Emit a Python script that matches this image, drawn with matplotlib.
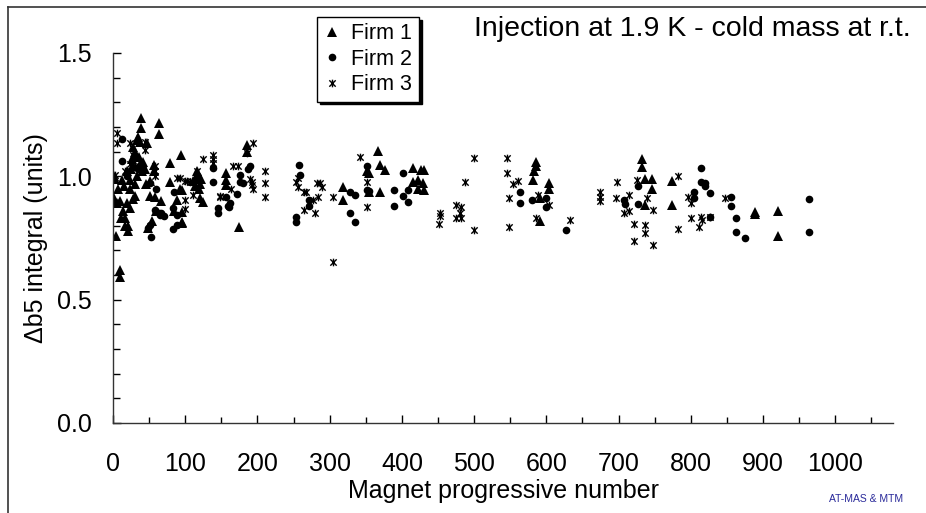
import matplotlib
matplotlib.use("Agg")
import matplotlib.pyplot as plt
from matplotlib.path import Path
from matplotlib.lines import Line2D
from matplotlib.ticker import MultipleLocator, FormatStrFormatter

plt.rcParams['font.family'] = ['Liberation Sans', 'DejaVu Sans']

# Firm 1 (triangles): magnet number, delta b5
firm1_x = [1, 3, 4, 9, 9, 0.5, 5, 10, 12, 14, 17, 11, 17, 21, 21, 19, 19, 23, 23, 25,
           28, 28, 28, 30, 33, 33, 35, 37, 39, 39, 40, 42, 44, 47, 49, 51, 51, 54, 57, 57,
           58, 60, 63, 63, 66, 79, 79, 84, 88, 93, 94, 95, 95, 95, 96, 26, 31, 36, 15, 7,
           45, 38, 24, 30,
           111, 114, 116, 118, 120, 122, 116, 120, 124, 157, 157, 157, 175, 185, 186, 113, 119,
           318, 319, 351, 355, 367, 369, 376, 355, 369, 415, 422, 427, 431, 415, 429, 422, 430,
           586, 585, 583, 581, 604, 604, 591, 591,
           732, 732, 737, 746, 746, 737, 774, 774, 889, 889, 921, 921]
firm1_y = [1.00, 0.99, 0.76, 0.62, 0.59, 0.92, 0.89, 0.90, 0.985, 0.86, 0.83, 0.83, 0.80, 0.80, 0.78, 0.89, 1.02, 0.985, 0.95, 1.03,
           1.04, 1.12, 0.91, 0.92, 1.00, 1.147, 1.16, 1.14, 1.235, 1.195, 1.02, 1.06, 1.03, 1.135, 0.79, 0.98, 0.92, 0.82, 1.046, 1.02,
           0.917, 0.86, 1.215, 1.172, 0.90, 1.053, 0.978, 0.86, 0.904, 0.95, 1.087, 0.945, 0.857, 0.816, 0.812, 1.07, 1.10, 1.08, 0.96, 0.95,
           0.97, 1.05, 0.87, 0.97,
           0.98, 0.99, 1.00, 1.01, 0.97, 0.99, 1.02, 0.911, 0.897, 1.012, 0.965, 0.985, 0.796, 1.127, 1.10, 0.96, 0.95,
           0.956, 0.904, 1.02, 1.012, 1.104, 1.046, 1.026, 0.938, 0.938, 1.032, 0.985, 1.026, 1.026, 0.978, 0.972, 0.95, 0.945,
           1.06, 1.04, 1.02, 0.985, 0.972, 0.95, 0.911, 0.82,
           1.069, 1.037, 0.988, 0.988, 0.95, 0.884, 0.982, 0.884, 0.857, 0.847, 0.861, 0.758]

# Firm 2 (circles)
firm2_x = [3, 7, 13, 13, 30, 51, 60, 58, 63, 65, 67, 51, 48, 52, 84, 83, 89, 89, 83, 20, 35, 70,
           139, 139, 146, 146, 159, 161, 157, 162, 172, 176, 176, 187, 190, 180, 258, 259, 253, 253, 272, 272,
           328, 335, 328, 335, 351, 351, 355, 401, 389, 401, 408, 389, 408,
           564, 564, 580, 599, 599, 627, 708, 709, 727, 727,
           814, 814, 819, 820, 826, 804, 804, 826, 855, 855, 863, 863, 875, 964, 964]
firm2_y = [0.89, 0.89, 1.15, 1.063, 1.08, 0.972, 0.95, 0.863, 0.85, 0.845, 0.85, 0.803, 0.79, 0.753, 0.938, 0.87, 0.843, 0.803, 0.785, 1.0, 1.03, 0.84,
           1.032, 0.978, 0.87, 0.85, 0.88, 0.874, 0.917, 0.89, 0.93, 1.005, 0.978, 1.028, 1.04, 0.972, 1.046, 1.005, 0.836, 0.816, 0.904, 0.88,
           0.938, 0.924, 0.853, 0.816, 1.04, 0.945, 0.94, 1.015, 0.945, 0.92, 0.945, 0.88, 0.895,
           0.938, 0.89, 0.904, 0.911, 0.877, 0.782, 0.904, 0.888, 0.888, 0.961,
           1.035, 0.978, 0.972, 0.961, 0.934, 0.938, 0.911, 0.836, 0.917, 0.881, 0.833, 0.776, 0.751, 0.907, 0.773]

# Firm 3 (stars)
firm3_x = [5, 5, 3, 17, 23.5, 28, 28, 44, 44, 42, 58, 58, 58, 88, 93, 30, 24,
           106, 100, 102, 100, 100, 111, 116, 125, 139, 139, 139, 148, 148, 164, 166, 173, 185, 194, 189, 193, 194, 192,
           211, 211, 211, 254, 256, 256, 265, 267, 282, 286, 289, 284, 277, 265, 279,
           305, 305, 342, 351, 351, 453, 453, 452, 488, 475, 482, 480, 475, 482, 500, 500,
           546, 546, 554, 561, 548, 548, 588, 604, 586, 633, 674, 674, 674, 698, 697,
           715, 707, 715, 722, 722, 736, 736, 747, 747, 739, 726, 782, 782, 796, 800, 800, 814, 816, 826, 812, 848]
firm3_y = [1.174, 1.134, 1.005, 1.02, 1.136, 1.087, 1.06, 1.14, 1.107, 1.026, 1.04, 1.02, 1.0, 0.992, 0.992, 1.04, 1.05,
           0.978, 0.98, 0.98, 0.904, 0.866, 0.924, 1.02, 1.069, 1.087, 1.069, 1.055, 0.917, 0.92, 0.95, 1.04, 1.04, 1.093, 1.134, 0.988, 0.965, 0.947, 0.978,
           1.02, 0.974, 0.917, 0.978, 0.992, 0.956, 0.938, 0.938, 0.972, 0.972, 0.958, 0.917, 0.904, 0.863, 0.85,
           0.915, 0.654, 1.08, 0.978, 0.874, 0.85, 0.838, 0.805, 0.978, 0.884, 0.877, 0.85, 0.83, 0.83, 1.073, 0.782,
           1.073, 1.012, 0.969, 0.982, 0.911, 0.796, 0.924, 0.884, 0.83, 0.823, 0.938, 0.918, 0.901, 0.978, 0.911,
           0.924, 0.85, 0.86, 0.807, 0.739, 0.803, 0.769, 0.722, 0.863, 0.913, 0.985, 0.785, 1.0, 0.917, 0.893, 0.83, 0.834, 0.823, 0.836, 0.796, 0.911]

series_labels = ["Firm 1", "Firm 2", "Firm 3"]

# Excel-like star marker: an x with a vertical bar through it
star = Path([(-1, -1), (1, 1), (-1, 1), (1, -1), (0, -1.2), (0, 1.2)],
            [Path.MOVETO, Path.LINETO, Path.MOVETO, Path.LINETO, Path.MOVETO, Path.LINETO])

tri_style = dict(linestyle='none', marker='^', markersize=6.5, color='black', markeredgewidth=0)
dot_style = dict(linestyle='none', marker='o', markersize=5.5, color='black', markeredgewidth=0)
star_style = dict(linestyle='none', marker=star, markersize=5.5, markeredgecolor='black',
                  markerfacecolor='none', markeredgewidth=1.0)

fig = plt.figure(figsize=(9.26, 5.13), dpi=100)
ax = fig.add_axes([113 / 926, 90 / 513, 780 / 926, 370 / 513])

ax.plot(firm3_x, firm3_y, label=series_labels[2], **star_style)
ax.plot(firm2_x, firm2_y, label=series_labels[1], **dot_style)
ax.plot(firm1_x, firm1_y, label=series_labels[0], **tri_style)

ax.set_xlim(0, 1080)
ax.set_ylim(0, 1.5)
ax.xaxis.set_minor_locator(MultipleLocator(50))
ax.set_xticks(range(0, 1001, 100))
ax.yaxis.set_major_locator(MultipleLocator(0.5))
ax.yaxis.set_minor_locator(MultipleLocator(0.1))
ax.yaxis.set_major_formatter(FormatStrFormatter('%.1f'))

for side in ['top', 'right']:
    ax.spines[side].set_visible(False)
for side in ['left', 'bottom']:
    ax.spines[side].set_color('#333333')
    ax.spines[side].set_linewidth(1.0)

ax.tick_params(axis='x', which='major', direction='in', length=6, width=1, pad=21, labelsize=18)
ax.tick_params(axis='x', which='minor', direction='in', length=4, width=1)
ax.tick_params(axis='y', which='major', direction='in', length=6, width=1, pad=15, labelsize=18)
ax.tick_params(axis='y', which='minor', direction='in', length=5, width=1)

ax.set_xlabel("Magnet progressive number", fontsize=18, labelpad=2)
ax.set_ylabel("Δb5 integral (units)", fontsize=18, labelpad=7)

fig.text(0.984, 0.918, "Injection at 1.9 K - cold mass at r.t.", fontsize=20.5,
         ha='right', va='bottom')
fig.text(0.975, 0.018, "AT-MAS & MTM", fontsize=7.5, color='#2a2a9a', ha='right', va='bottom')

handles = [Line2D([], [], **tri_style), Line2D([], [], **dot_style), Line2D([], [], **star_style)]
leg = fig.legend(handles, series_labels, loc='upper left', bbox_to_anchor=(317 / 926, 1 - 17 / 513),
                 fontsize=15.5, frameon=True, fancybox=False, edgecolor='black', borderaxespad=0,
                 handlelength=0.8, handletextpad=0.5, labelspacing=0.2, borderpad=0.3,
                 shadow={'color': 'black', 'alpha': 1})
leg.get_frame().set_linewidth(1.0)

# outer frame lines (top and left)
fig.add_artist(Line2D([8 / 926, 8 / 926], [0, 1 - 7 / 513], transform=fig.transFigure, color='#333333', lw=1.2))
fig.add_artist(Line2D([8 / 926, 1], [1 - 7 / 513, 1 - 7 / 513], transform=fig.transFigure, color='#333333', lw=1.2))

fig.savefig("out.png", dpi=100)
